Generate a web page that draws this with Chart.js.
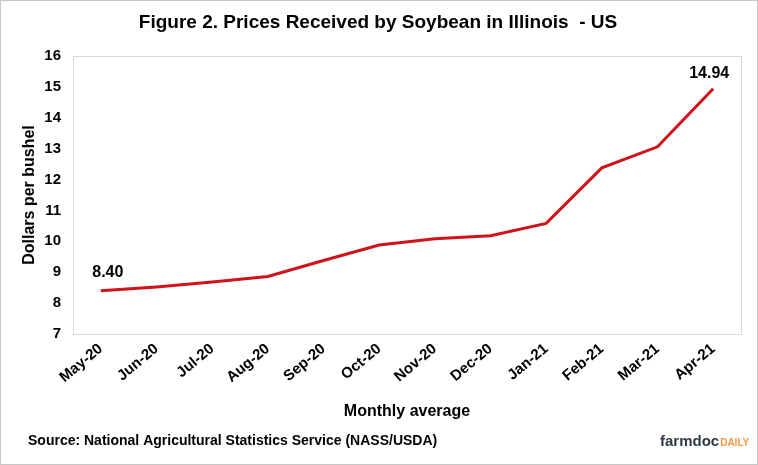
<!DOCTYPE html>
<html>
<head>
<meta charset="utf-8">
<script src="https://cdn.jsdelivr.net/npm/chart.js@4.4.0/dist/chart.umd.min.js"></script>
<style>
  html, body { margin: 0; padding: 0; background: #fff; }
  #wrap { width: 758px; height: 465px; position: relative; }
</style>
</head>
<body>
<div id="wrap"><canvas id="soyChart" width="758" height="465"></canvas></div>
<script>
const months = ["May-20", "Jun-20", "Jul-20", "Aug-20", "Sep-20", "Oct-20",
  "Nov-20", "Dec-20", "Jan-21", "Feb-21", "Mar-21", "Apr-21"];
const prices = [8.40, 8.52, 8.68, 8.86, 9.38, 9.88, 10.08, 10.18, 10.58, 12.38, 13.06, 14.94];
const labelledPoints = [0, 11]; // only first and last get a value label

const FONT = "'Liberation Sans', Arial, sans-serif";

// frame, title, value labels, footer
const decorations = {
  id: "decorations",
  afterDraw(chart) {
    const { ctx, chartArea } = chart;
    ctx.save();
    // plot area frame
    ctx.strokeStyle = "#d9d9d9";
    ctx.lineWidth = 1;
    ctx.strokeRect(chartArea.left + 0.5, chartArea.top + 0.5,
      chartArea.right - chartArea.left, chartArea.bottom - chartArea.top);
    // outer frame
    ctx.strokeStyle = "#c6c6c6";
    ctx.strokeRect(0.5, 0.5, chart.width - 1, chart.height - 1);

    // title
    ctx.fillStyle = "#000";
    ctx.font = "bold 19px " + FONT;
    ctx.textAlign = "center";
    ctx.textBaseline = "middle";
    ctx.fillText("Figure 2. Prices Received by Soybean in Illinois  - US", 378, 23);

    // value labels (Excel places them a touch off-centre)
    const meta = chart.getDatasetMeta(0);
    ctx.font = "bold 16px " + FONT;
    const first = meta.data[labelledPoints[0]];
    ctx.fillText(prices[labelledPoints[0]].toFixed(2), first.x + 7, first.y - 18);
    const last = meta.data[labelledPoints[1]];
    ctx.fillText(prices[labelledPoints[1]].toFixed(2), last.x - 4, last.y - 15);

    // source
    ctx.textAlign = "left";
    ctx.font = "bold 14px " + FONT;
    ctx.fillText("Source: National Agricultural Statistics Service (NASS/USDA)", 28, 441);

    // logo
    ctx.font = "bold 15px " + FONT;
    ctx.fillStyle = "#2f3a45";
    ctx.fillText("farmdoc", 660, 442);
    const w = ctx.measureText("farmdoc").width;
    ctx.font = "bold 10px " + FONT;
    ctx.fillStyle = "#f09a48";
    ctx.fillText("DAILY", 660 + w + 1, 443);
    ctx.restore();
  },
};

const ctx = document.getElementById("soyChart").getContext("2d");
new Chart(ctx, {
  type: "line",
  data: {
    labels: months,
    datasets: [
      {
        label: "Price",
        data: prices,
        borderColor: "#d0121b",
        borderWidth: 3,
        pointRadius: 0,
        tension: 0,
        fill: false,
      },
    ],
  },
  options: {
    responsive: false,
    animation: false,
    layout: { padding: { top: 56, left: 12, right: 17, bottom: 40 } },
    plugins: {
      legend: { display: false },
      tooltip: { enabled: false },
    },
    scales: {
      x: {
        offset: true,
        grid: { display: false, drawTicks: false },
        border: { display: false },
        ticks: {
          color: "#000",
          font: { family: FONT, weight: "bold", size: 15 },
          minRotation: 40,
          maxRotation: 40,
          padding: 6,
          autoSkip: false,
        },
        title: {
          display: true,
          text: "Monthly average",
          color: "#000",
          font: { family: FONT, weight: "bold", size: 16 },
          padding: { top: 0, bottom: 4 },
        },
        afterFit: (scale) => { scale.height = 91; },
      },
      y: {
        min: 7,
        max: 16,
        grid: { display: false, drawTicks: false },
        border: { display: false },
        ticks: {
          stepSize: 1,
          color: "#000",
          font: { family: FONT, weight: "bold", size: 15 },
          padding: 12,
        },
        title: {
          display: true,
          text: "Dollars per bushel",
          color: "#000",
          font: { family: FONT, weight: "bold", size: 16 },
          padding: { top: 8, bottom: 4 },
        },
        afterFit: (scale) => { scale.width = 61; },
      },
    },
  },
  plugins: [decorations],
});
</script>
</body>
</html>
